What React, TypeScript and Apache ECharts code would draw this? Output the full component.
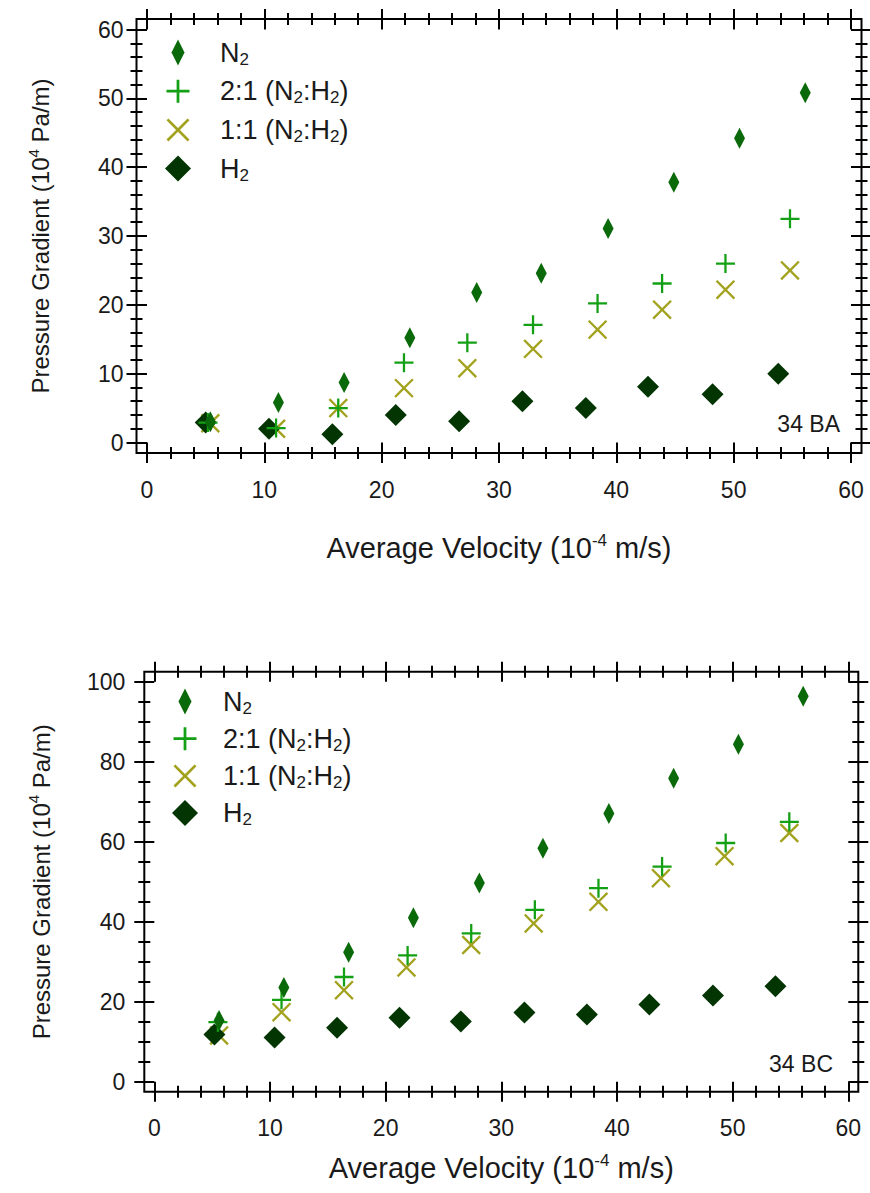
import React, { useEffect, useRef } from 'react';
import * as echarts from 'echarts';

// ---------- DATA ----------
const SERIES_NAMES = ['N2', '2:1 (N2:H2)', '1:1 (N2:H2)', 'H2'];

// Chart "34 BA" (top)
const baVelN2 = [5.4, 11.2, 16.8, 22.4, 28.1, 33.6, 39.3, 44.9, 50.5, 56.1];
const baPN2 = [3.0, 5.8, 8.7, 15.2, 21.8, 24.6, 31.1, 37.8, 44.2, 50.8];
const baVel21 = [5.2, 11.0, 16.3, 21.9, 27.3, 32.9, 38.4, 43.9, 49.3, 54.8];
const baP21 = [2.9, 2.1, 5.0, 11.6, 14.5, 17.1, 20.2, 23.1, 26.0, 32.5];
const baVel11 = [5.4, 11.0, 16.3, 21.9, 27.3, 32.9, 38.4, 43.9, 49.3, 54.8];
const baP11 = [2.8, 2.0, 5.0, 7.9, 10.8, 13.6, 16.4, 19.3, 22.2, 25.0];
const baVelH2 = [5.0, 10.4, 15.8, 21.2, 26.6, 32.0, 37.4, 42.7, 48.2, 53.8];
const baPH2 = [2.9, 2.0, 1.2, 4.0, 3.1, 6.0, 5.0, 8.1, 7.0, 10.0];

// Chart "34 BC" (bottom)
const bcVelN2 = [5.6, 11.2, 16.8, 22.4, 28.1, 33.6, 39.3, 44.9, 50.5, 56.1];
const bcPN2 = [15.3, 23.6, 32.4, 41.0, 49.7, 58.4, 67.1, 75.9, 84.4, 96.4];
const bcVel21 = [5.5, 11.0, 16.4, 21.9, 27.4, 32.9, 38.4, 43.9, 49.4, 54.9];
const bcP21 = [14.9, 20.5, 26.2, 31.6, 37.1, 43.0, 48.4, 53.8, 59.7, 65.0];
const bcVel11 = [5.6, 11.0, 16.4, 21.8, 27.4, 32.8, 38.4, 43.8, 49.3, 54.9];
const bcP11 = [11.6, 17.4, 22.9, 28.6, 34.2, 39.6, 45.0, 50.9, 56.4, 62.2];
const bcVelH2 = [5.2, 10.4, 15.8, 21.2, 26.5, 32.0, 37.4, 42.8, 48.3, 53.7];
const bcPH2 = [11.8, 11.1, 13.5, 16.0, 15.1, 17.3, 16.8, 19.3, 21.6, 23.9];

// Axis ranges
const X_MIN = 0, X_MAX = 60, X_INT = 10;
const BA_Y_MIN = 0, BA_Y_MAX = 60, BA_Y_INT = 10;
const BC_Y_MIN = 0, BC_Y_MAX = 100, BC_Y_INT = 20;

const X_TITLE = '{t|Average Velocity (10}{sup|-4}{t| m/s)}';
const Y_TITLE = '{t|Pressure Gradient (10}{sup|4}{t| Pa/m)}';
const LABEL_BA = '34 BA';
const LABEL_BC = '34 BC';

// ---------- STYLE ----------
const FONT = 'Liberation Sans, Arial, Helvetica, sans-serif';
const TXT = '#1a1a1a';
const COL_N2 = '#0a6a0a';
const COL_21 = '#14a014';
const COL_11 = '#a2a21e';
const COL_H2 = '#033503';

const SYM_N2 = 'path://M5,0L10,10L5,20L0,10Z';
const SYM_H2 = 'path://M10,0L20,10L10,20L0,10Z';
const SYM_PLUS = 'path://M-1.3,-1.3M21.3,21.3M8.8,0H11.2V8.8H20V11.2H11.2V20H8.8V11.2H0V8.8H8.8Z';
const SYM_X = 'path://M-1.3,-1.3M21.3,21.3M1.7,0L10,8.3L18.3,0L20,1.7L11.7,10L20,18.3L18.3,20L10,11.7L1.7,20L0,18.3L8.3,10L0,1.7Z';

const LEGEND_TEXT: Record<string, string> = {
  'N2': '{t|N}{s|2}',
  '2:1 (N2:H2)': '{t|2:1 (N}{s|2}{t|:H}{s|2}{t|)}',
  '1:1 (N2:H2)': '{t|1:1 (N}{s|2}{t|:H}{s|2}{t|)}',
  'H2': '{t|H}{s|2}',
};

const C1 = { left: 147, top: 29.5, width: 704, height: 413, off: 10.5 };
const C2 = { left: 154.3, top: 681.8, width: 694, height: 400, off: 10 };

const TICK = { color: '#000', width: 2 };

const NAME_RICH_X = {
  t: { fontSize: 29, lineHeight: 32, fontFamily: FONT, color: TXT },
  sup: { fontSize: 17, verticalAlign: 'top', fontFamily: FONT, color: TXT },
};
const NAME_RICH_Y = {
  t: { fontSize: 24, lineHeight: 30, fontFamily: FONT, color: TXT },
  sup: { fontSize: 15, verticalAlign: 'top', fontFamily: FONT, color: TXT },
};

function zip(a: number[], b: number[]) {
  return a.map((v, i) => [v, b[i]]);
}

function axesFor(
  dim: 'x' | 'y',
  gridIndex: number,
  off: number,
  min: number,
  max: number,
  interval: number,
  minorSplit: number,
  labelMargin: number,
  nameGap: number,
) {
  const positions = dim === 'x' ? ['bottom', 'top'] : ['left', 'right'];
  const out: any[] = [];
  positions.forEach((pos, pi) => {
    [false, true].forEach((inside) => {
      const isData = pi === 0 && !inside;
      out.push({
        type: 'value',
        gridIndex,
        position: pos,
        offset: off,
        min,
        max,
        interval,
        axisLine: { show: false, onZero: false },
        axisTick: { show: true, inside, length: inside ? off : 10, lineStyle: TICK },
        minorTick: { show: true, splitNumber: minorSplit, length: 6, lineStyle: TICK },
        splitLine: { show: false },
        minorSplitLine: { show: false },
        axisLabel: isData
          ? { show: true, margin: labelMargin, fontSize: 23, fontFamily: FONT, color: TXT }
          : { show: false },
        name: isData ? (dim === 'x' ? X_TITLE : Y_TITLE) : '',
        nameLocation: 'middle',
        nameGap,
        nameTextStyle: { fontSize: 24, fontFamily: FONT, color: TXT, rich: dim === 'x' ? NAME_RICH_X : NAME_RICH_Y },
        silent: true,
      });
    });
  });
  return out;
}

function seriesFor(
  axisIndex: number,
  d: { v11: number[]; p11: number[]; vH2: number[]; pH2: number[]; v21: number[]; p21: number[]; vN2: number[]; pN2: number[] },
) {
  const common = { type: 'scatter', xAxisIndex: axisIndex, yAxisIndex: axisIndex, silent: true, emphasis: { disabled: true } };
  return [
    { ...common, name: SERIES_NAMES[2], data: zip(d.v11, d.p11), symbol: SYM_X, symbolSize: 22, itemStyle: { color: COL_11, opacity: 1 } },
    { ...common, name: SERIES_NAMES[3], data: zip(d.vH2, d.pH2), symbol: SYM_H2, symbolSize: 22, itemStyle: { color: COL_H2, opacity: 1 } },
    { ...common, name: SERIES_NAMES[1], data: zip(d.v21, d.p21), symbol: SYM_PLUS, symbolSize: 21.5, itemStyle: { color: COL_21, opacity: 1 } },
    { ...common, name: SERIES_NAMES[0], data: zip(d.vN2, d.pN2), symbol: SYM_N2, symbolSize: [11, 21], itemStyle: { color: COL_N2, opacity: 1 } },
  ];
}

function legendFor(left: number, top: number, itemWidth: number, itemGap: number) {
  return {
    orient: 'vertical',
    left,
    top,
    padding: 0,
    itemWidth,
    itemHeight: 26,
    itemGap,
    selectedMode: false,
    data: SERIES_NAMES,
    formatter: (name: string) => LEGEND_TEXT[name] || name,
    itemStyle: { opacity: 1 },
    textStyle: {
      fontSize: 27,
      fontFamily: FONT,
      color: TXT,
      rich: {
        t: { fontSize: 27, lineHeight: 30, fontFamily: FONT, color: TXT },
        s: { fontSize: 17, verticalAlign: 'bottom', fontFamily: FONT, color: TXT },
      },
    },
  };
}

function frame(c: { left: number; top: number; width: number; height: number; off: number }) {
  return {
    type: 'rect',
    silent: true,
    shape: { x: c.left - c.off, y: c.top - c.off, width: c.width + 2 * c.off, height: c.height + 2 * c.off },
    style: { fill: 'none', stroke: '#000', lineWidth: 2 },
  };
}

export default function App() {
  const ref = useRef<HTMLDivElement>(null);
  useEffect(() => {
    document.body.style.margin = '0';
    if (!ref.current) return;
    const chart = echarts.init(ref.current, undefined, { renderer: 'svg' });
    const option: any = {
      animation: false,
      backgroundColor: '#fff',
      grid: [
        { left: C1.left, top: C1.top, width: C1.width, height: C1.height },
        { left: C2.left, top: C2.top, width: C2.width, height: C2.height },
      ],
      xAxis: [
        ...axesFor('x', 0, C1.off, X_MIN, X_MAX, X_INT, 5, 25, 79),
        ...axesFor('x', 1, C2.off, X_MIN, X_MAX, X_INT, 5, 25, 60),
      ],
      yAxis: [
        ...axesFor('y', 0, C1.off, BA_Y_MIN, BA_Y_MAX, BA_Y_INT, 5, 13, 81),
        ...axesFor('y', 1, C2.off, BC_Y_MIN, BC_Y_MAX, BC_Y_INT, 4, 19, 88),
      ],
      legend: [legendFor(165, 39, 74, 10.2), legendFor(172, 688, 66, 8.7)],
      series: [
        ...seriesFor(0, { v11: baVel11, p11: baP11, vH2: baVelH2, pH2: baPH2, v21: baVel21, p21: baP21, vN2: baVelN2, pN2: baPN2 }),
        ...seriesFor(4, { v11: bcVel11, p11: bcP11, vH2: bcVelH2, pH2: bcPH2, v21: bcVel21, p21: bcP21, vN2: bcVelN2, pN2: bcPN2 }),
      ],
      graphic: [
        frame(C1),
        frame(C2),
        {
          type: 'text',
          silent: true,
          x: 840,
          y: 424,
          style: { text: LABEL_BA, fontSize: 23, fontFamily: FONT, fill: TXT, align: 'right', verticalAlign: 'middle' },
        },
        {
          type: 'text',
          silent: true,
          x: 833,
          y: 1064,
          style: { text: LABEL_BC, fontSize: 23, fontFamily: FONT, fill: TXT, align: 'right', verticalAlign: 'middle' },
        },
      ],
    };
    chart.setOption(option);
    return () => chart.dispose();
  }, []);
  return <div ref={ref} style={{ width: 870, height: 1193 }} />;
}
